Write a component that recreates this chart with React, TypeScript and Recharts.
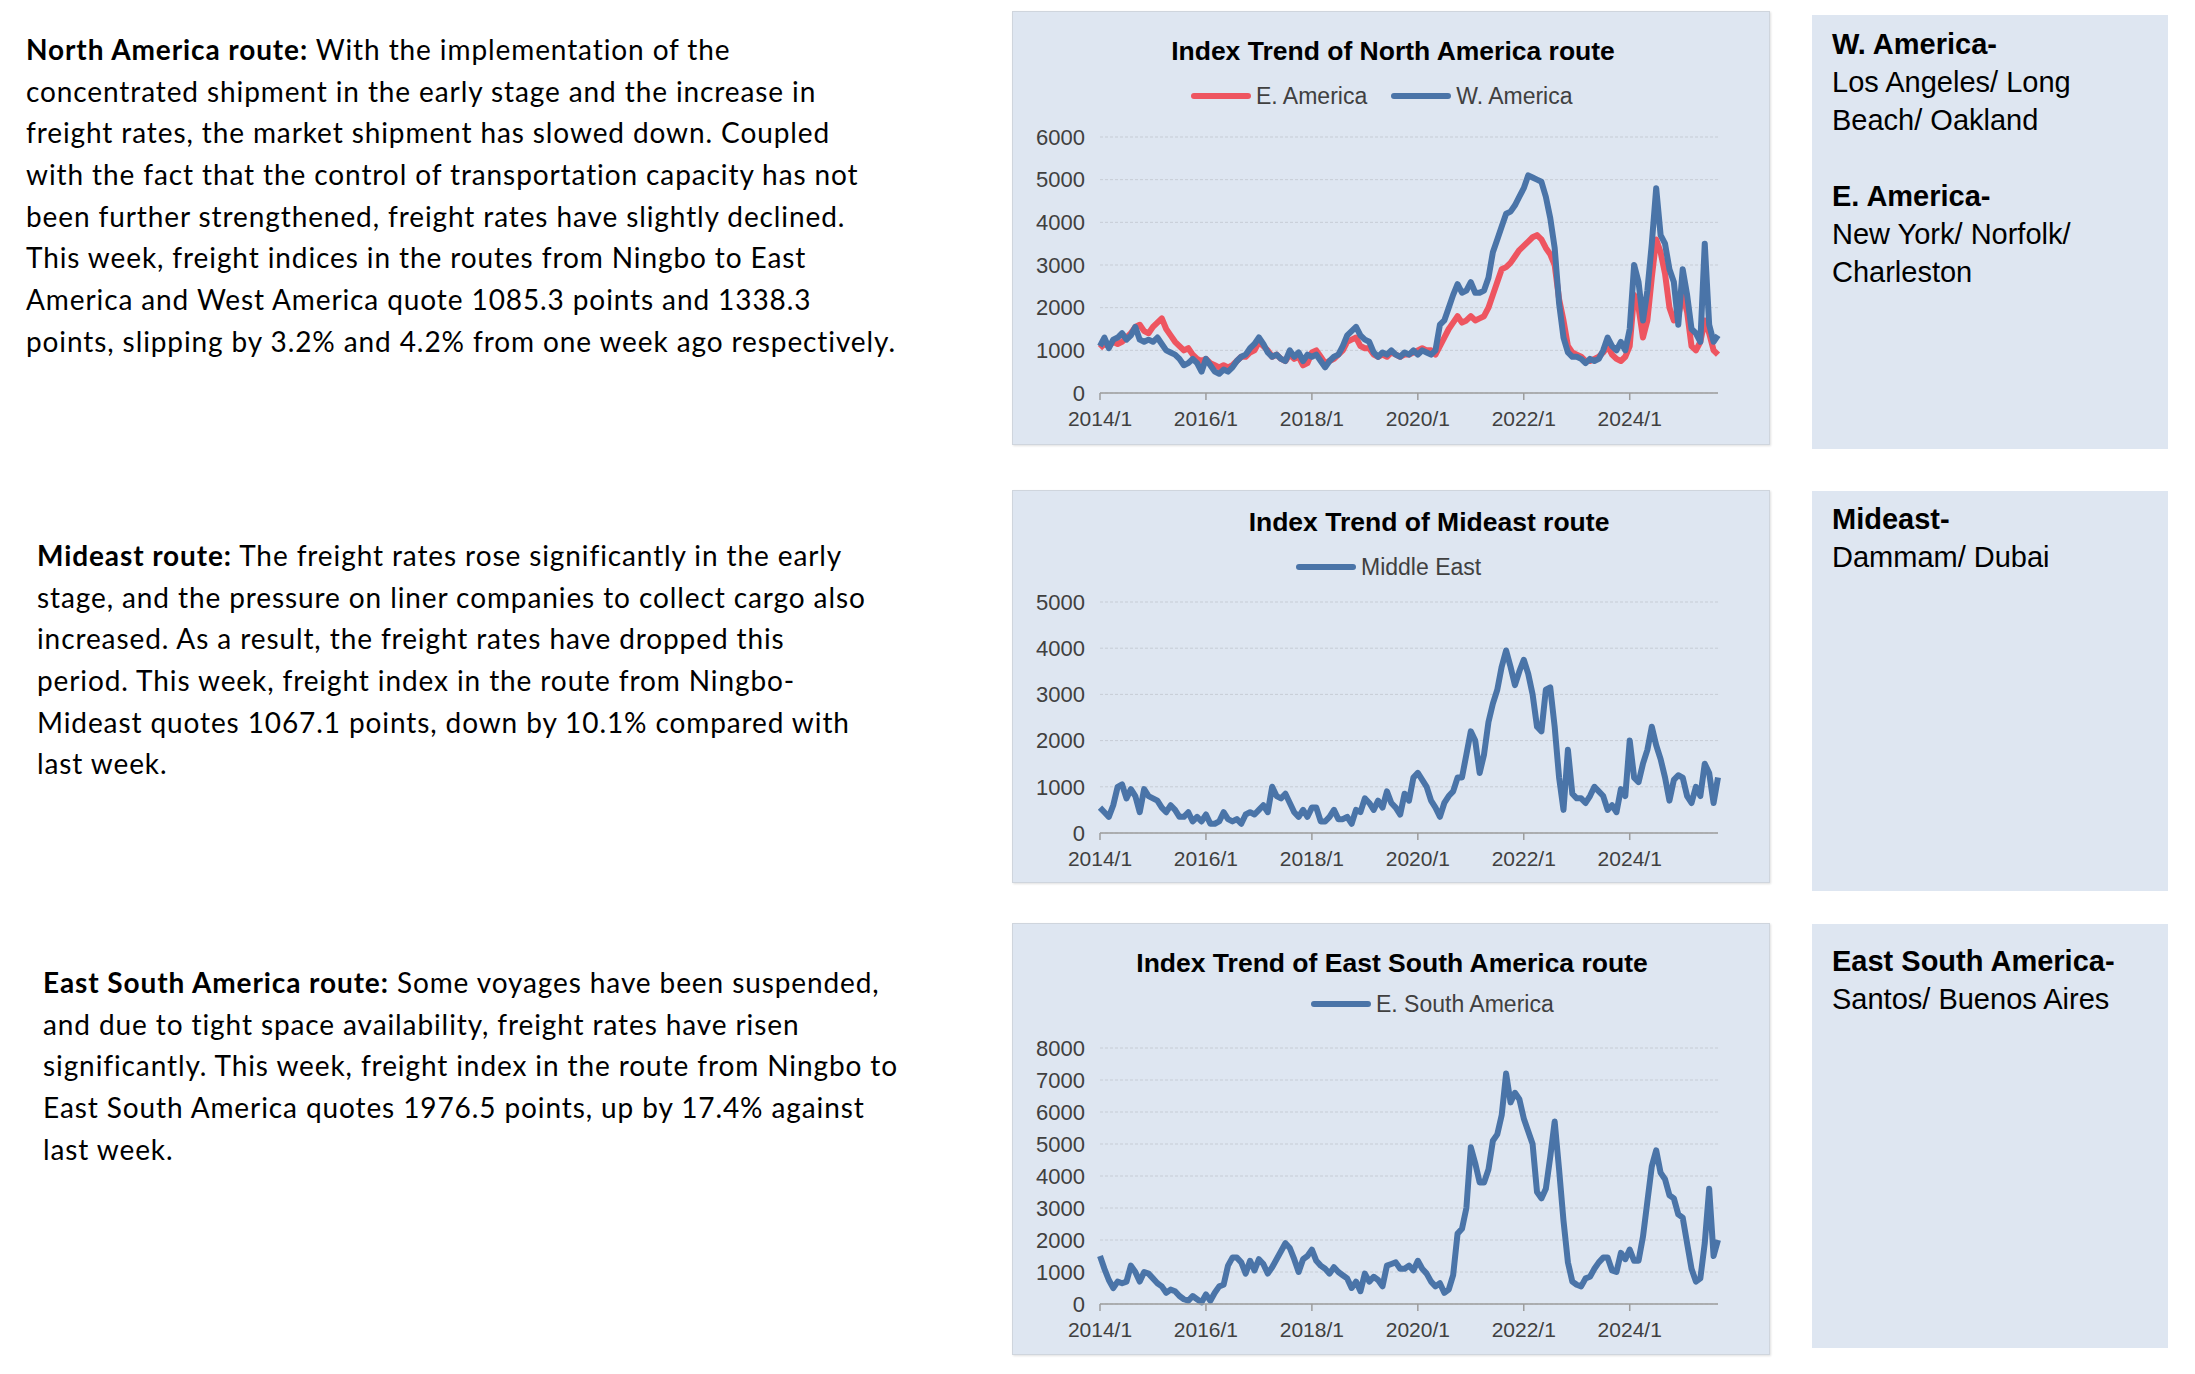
import React from 'react';
import { LineChart, Line, XAxis, YAxis, CartesianGrid, Legend } from 'recharts';

// ---------- axis ticks ----------
const xTickValues = [0, 24, 48, 72, 96, 120];
const xTickLabels = ['2014/1', '2016/1', '2018/1', '2020/1', '2022/1', '2024/1'];
const naYTicks = [0, 1000, 2000, 3000, 4000, 5000, 6000];
const meYTicks = [0, 1000, 2000, 3000, 4000, 5000];
const esaYTicks = [0, 1000, 2000, 3000, 4000, 5000, 6000, 7000, 8000];

// ---------- monthly index values, 2014/1 .. 2025/9 ----------
const eAmerica = [
  1050, 1150, 1100, 1200, 1150, 1200, 1300, 1400, 1550, 1600, 1450, 1400, 1550, 1650, 1750, 1500, 1350, 1200, 1100, 1000,
  1050, 900, 800, 750, 800, 700, 650, 600, 650, 600, 650, 750, 850, 850, 950, 1000, 1200, 1100, 1000, 850,
  900, 800, 750, 900, 800, 850, 650, 700, 950, 1000, 850, 700, 750, 800, 900, 1000, 1200, 1250, 1300, 1100,
  1050, 1050, 900, 850, 900, 850, 950, 900, 850, 900, 900, 950, 1000, 1050, 1000, 1000, 900, 1100, 1300, 1500,
  1650, 1800, 1650, 1700, 1800, 1700, 1750, 1800, 2000, 2300, 2600, 2900, 2950, 3050, 3200, 3350, 3450, 3550, 3650, 3700,
  3600, 3400, 3250, 3000, 2200, 1700, 1100, 950, 900, 850, 750, 750, 800, 850, 950, 1100, 900, 800, 750, 850,
  1100, 2300, 2000, 1300, 1700, 2700, 3600, 3300, 2800, 2000, 1700, 1800, 2300, 1900, 1100, 1000, 1200, 1700, 1400, 1000,
  900,
];
const wAmerica = [
  1100, 1300, 1050, 1250, 1300, 1400, 1250, 1350, 1550, 1250, 1200, 1250, 1200, 1300, 1150, 1000, 950, 900, 800, 650,
  700, 800, 700, 500, 800, 650, 500, 450, 550, 500, 600, 750, 850, 900, 1050, 1150, 1300, 1150, 950, 850,
  900, 800, 750, 1000, 850, 950, 750, 900, 850, 900, 750, 600, 750, 850, 900, 1100, 1350, 1450, 1550, 1350,
  1250, 1200, 950, 850, 950, 900, 1000, 900, 850, 950, 900, 1000, 900, 1000, 950, 900, 1000, 1600, 1700, 2000,
  2300, 2550, 2350, 2400, 2600, 2350, 2350, 2400, 2700, 3300, 3600, 3900, 4200, 4250, 4400, 4600, 4800, 5100, 5050, 5000,
  4950, 4600, 4100, 3400, 2100, 1300, 950, 850, 850, 800, 700, 800, 750, 800, 1000, 1300, 1100, 1000, 1200, 1000,
  1500, 3000, 2600, 1700, 2400, 3500, 4800, 3700, 3500, 2900, 2600, 1600, 2900, 2300, 1500, 1400, 1200, 3500, 1600, 1200,
  1350,
];
const middleEast = [
  550, 450, 350, 600, 1000, 1050, 750, 950, 800, 450, 950, 800, 750, 700, 550, 450, 600, 500, 350, 350,
  450, 250, 350, 250, 400, 200, 200, 250, 450, 300, 250, 300, 200, 400, 450, 400, 500, 600, 450, 1000,
  800, 750, 850, 650, 450, 350, 500, 350, 550, 550, 250, 250, 350, 500, 300, 300, 350, 200, 500, 450,
  750, 650, 500, 700, 550, 900, 650, 550, 400, 850, 700, 1200, 1300, 1150, 1000, 700, 550, 350, 650, 800,
  900, 1200, 1200, 1700, 2200, 2000, 1300, 1700, 2400, 2800, 3100, 3600, 3950, 3600, 3200, 3500, 3750, 3450, 3000, 2300,
  2200, 3100, 3150, 2300, 1200, 500, 1800, 850, 750, 750, 650, 800, 1000, 900, 800, 500, 600, 450, 950, 800,
  2000, 1200, 1100, 1500, 1800, 2300, 1900, 1600, 1200, 700, 1150, 1250, 1200, 800, 650, 1000, 800, 1500, 1300, 650,
  1200,
];
const eSouthAmerica = [
  1500, 1100, 750, 500, 700, 650, 700, 1200, 1000, 700, 1000, 950, 800, 650, 550, 350, 450, 400, 250, 150,
  100, 250, 150, 50, 300, 100, 350, 550, 600, 1200, 1450, 1450, 1300, 950, 1350, 1050, 1400, 1250, 950, 1150,
  1400, 1650, 1900, 1750, 1400, 1000, 1400, 1500, 1700, 1350, 1200, 1100, 950, 1150, 1000, 900, 800, 500, 700, 400,
  950, 700, 850, 750, 550, 1200, 1250, 1300, 1100, 1100, 1200, 1050, 1350, 1100, 950, 700, 550, 650, 350, 450,
  900, 2200, 2350, 3000, 4900, 4400, 3800, 3800, 4200, 5100, 5300, 5900, 7200, 6300, 6600, 6400, 5800, 5400, 5000, 3500,
  3300, 3600, 4600, 5700, 4200, 2600, 1300, 700, 600, 550, 800, 850, 1100, 1300, 1450, 1450, 1050, 1000, 1600, 1400,
  1700, 1350, 1350, 2100, 3200, 4300, 4800, 4100, 3900, 3400, 3300, 2800, 2700, 1900, 1100, 700, 800, 1900, 3600, 1500,
  2000,
];

const naData = eAmerica.map((v, i) => ({ t: i, e: v, w: wAmerica[i] }));
const meData = middleEast.map((v, i) => ({ t: i, m: v }));
const esaData = eSouthAmerica.map((v, i) => ({ t: i, s: v }));

const BLUE = '#4a74a8';
const RED = '#ee5560';
const PANEL_BG = '#dee6f1';
const ARIAL = '"Liberation Sans", Arial, sans-serif';
const BODY = 'Lato, "Open Sans", sans-serif';

const renderLegend = (props: any) => (
  <div style={{ display: 'flex', alignItems: 'center', height: 28, whiteSpace: 'nowrap' }}>
    {(props.payload || []).map((entry: any, i: number) => (
      <div key={i} style={{ display: 'flex', alignItems: 'center', marginRight: 24 }}>
        <div style={{ width: 60, height: 6, borderRadius: 3, background: entry.color }} />
        <span style={{ marginLeft: 5, fontSize: 23, color: '#404040', fontFamily: ARIAL, lineHeight: '28px' }}>
          {entry.value}
        </span>
      </div>
    ))}
  </div>
);

type SeriesDef = { key: string; name: string; color: string };

function RouteChart(props: {
  left: number; top: number; width: number; height: number;
  plotTop: number; plotBottom: number;
  title: string; titleX: number; titleY: number;
  legendX: number; legendY: number;
  data: any[]; series: SeriesDef[]; yTicks: number[];
}) {
  const { left, top, width, height, plotTop, plotBottom, title, titleX, titleY, legendX, legendY, data, series, yTicks } = props;
  const plotLeft = 87;
  const plotRight = 705;
  return (
    <div style={{
      position: 'absolute', left, top, width, height, background: PANEL_BG,
      border: '1px solid #cfd5dd', boxShadow: '1px 1px 2px rgba(0,0,0,0.12)', boxSizing: 'border-box',
    }}>
      <div style={{
        position: 'absolute', left: titleX, top: titleY - 15, transform: 'translateX(-50%)', whiteSpace: 'nowrap',
        fontFamily: ARIAL, fontWeight: 'bold', fontSize: 26.5, lineHeight: '30px', color: '#000',
      }}>{title}</div>
      <LineChart
        width={width - 2}
        height={height - 2}
        data={data}
        margin={{ top: plotTop, right: width - 2 - plotRight, left: 0, bottom: 0 }}
      >
        <CartesianGrid vertical={false} stroke="#c6ccd5" strokeDasharray="3 2" />
        <XAxis
          dataKey="t"
          type="number"
          domain={[0, 140]}
          ticks={xTickValues}
          interval={0}
          tickFormatter={(v: number) => xTickLabels[xTickValues.indexOf(v)]}
          height={height - 2 - plotBottom}
          tick={{ fill: '#404040', fontSize: 21, fontFamily: ARIAL }}
          axisLine={{ stroke: '#9c9c9c', strokeWidth: 1.5 }}
          tickLine={{ stroke: '#9c9c9c', strokeWidth: 1.5 }}
          tickSize={7}
          tickMargin={11}
        />
        <YAxis
          type="number"
          domain={[0, yTicks[yTicks.length - 1]]}
          ticks={yTicks}
          interval={0}
          width={plotLeft}
          axisLine={false}
          tickLine={false}
          tickSize={0}
          tickMargin={15}
          tick={{ fill: '#404040', fontSize: 22, fontFamily: ARIAL }}
        />
        <Legend
          layout="horizontal"
          align="center"
          verticalAlign="middle"
          wrapperStyle={{ left: legendX, top: legendY - 14, width: 'auto' }}
          content={renderLegend}
        />
        {series.map((s) => (
          <Line
            key={s.key}
            type="linear"
            dataKey={s.key}
            name={s.name}
            stroke={s.color}
            strokeWidth={6}
            strokeLinejoin="round"
            dot={false}
            activeDot={false}
            isAnimationActive={false}
          />
        ))}
      </LineChart>
    </div>
  );
}

type Line2 = { bold?: string; text: string };

const naText: Line2[] = [
  { bold: 'North America route:', text: ' With the implementation of the' },
  { text: 'concentrated shipment in the early stage and the increase in' },
  { text: 'freight rates, the market shipment has slowed down. Coupled' },
  { text: 'with the fact that the control of transportation capacity has not' },
  { text: 'been further strengthened, freight rates have slightly declined.' },
  { text: 'This week, freight indices in the routes from Ningbo to East' },
  { text: 'America and West America quote 1085.3 points and 1338.3' },
  { text: 'points, slipping by 3.2% and 4.2% from one week ago respectively.' },
];
const meText: Line2[] = [
  { bold: 'Mideast route:', text: ' The freight rates rose significantly in the early' },
  { text: 'stage, and the pressure on liner companies to collect cargo also' },
  { text: 'increased. As a result, the freight rates have dropped this' },
  { text: 'period. This week, freight index in the route from Ningbo-' },
  { text: 'Mideast quotes 1067.1 points, down by 10.1% compared with' },
  { text: 'last week.' },
];
const esaText: Line2[] = [
  { bold: 'East South America route:', text: ' Some voyages have been suspended,' },
  { text: 'and due to tight space availability, freight rates have risen' },
  { text: 'significantly. This week, freight index in the route from Ningbo to' },
  { text: 'East South America quotes 1976.5 points, up by 17.4% against' },
  { text: 'last week.' },
];

function TextBlock({ x, y, lines }: { x: number; y: number; lines: Line2[] }) {
  return (
    <div style={{ position: 'absolute', left: x, top: y - 23, fontFamily: BODY, fontSize: 28, letterSpacing: 0.9, color: '#000' }}>
      {lines.map((l, i) => (
        <div key={i} style={{ height: 41.7, lineHeight: '41.7px', whiteSpace: 'nowrap' }}>
          {l.bold ? <b>{l.bold}</b> : null}
          {l.text}
        </div>
      ))}
    </div>
  );
}

type PortLine = { text: string; bold?: boolean };

const naPorts: PortLine[] = [
  { text: 'W. America-', bold: true },
  { text: 'Los Angeles/ Long' },
  { text: 'Beach/ Oakland' },
  { text: '' },
  { text: 'E. America-', bold: true },
  { text: 'New York/ Norfolk/' },
  { text: 'Charleston' },
];
const mePorts: PortLine[] = [
  { text: 'Mideast-', bold: true },
  { text: 'Dammam/ Dubai' },
];
const esaPorts: PortLine[] = [
  { text: 'East South America-', bold: true },
  { text: 'Santos/ Buenos Aires' },
];

function PortPanel({ top, height, textY, lines }: { top: number; height: number; textY: number; lines: PortLine[] }) {
  return (
    <div style={{ position: 'absolute', left: 1812, top, width: 356, height, background: PANEL_BG }}>
      <div style={{ position: 'absolute', left: 20, top: textY - top - 19, fontFamily: ARIAL, fontSize: 29, color: '#000' }}>
        {lines.map((l, i) => (
          <div key={i} style={{ height: 38, lineHeight: '38px', whiteSpace: 'nowrap', fontWeight: l.bold ? 'bold' : 'normal' }}>
            {l.text}
          </div>
        ))}
      </div>
    </div>
  );
}

export default function App() {
  return (
    <div style={{ position: 'absolute', left: 0, top: 0, width: 2195, height: 1374, background: '#fff', overflow: 'hidden' }}>
      <TextBlock x={26} y={52} lines={naText} />
      <TextBlock x={37} y={558} lines={meText} />
      <TextBlock x={43} y={985} lines={esaText} />

      <RouteChart
        left={1012} top={11} width={758} height={434}
        plotTop={125} plotBottom={381}
        title="Index Trend of North America route" titleX={380} titleY={39}
        legendX={178} legendY={84}
        data={naData}
        series={[
          { key: 'e', name: 'E. America', color: RED },
          { key: 'w', name: 'W. America', color: BLUE },
        ]}
        yTicks={naYTicks}
      />
      <RouteChart
        left={1012} top={490} width={758} height={393}
        plotTop={111} plotBottom={342}
        title="Index Trend of Mideast route" titleX={416} titleY={31}
        legendX={283} legendY={76}
        data={meData}
        series={[{ key: 'm', name: 'Middle East', color: BLUE }]}
        yTicks={meYTicks}
      />
      <RouteChart
        left={1012} top={923} width={758} height={432}
        plotTop={124} plotBottom={380}
        title="Index Trend of East South America route" titleX={379} titleY={39}
        legendX={298} legendY={80}
        data={esaData}
        series={[{ key: 's', name: 'E. South America', color: BLUE }]}
        yTicks={esaYTicks}
      />

      <PortPanel top={15} height={434} textY={44} lines={naPorts} />
      <PortPanel top={491} height={400} textY={519} lines={mePorts} />
      <PortPanel top={924} height={424} textY={961} lines={esaPorts} />
    </div>
  );
}
